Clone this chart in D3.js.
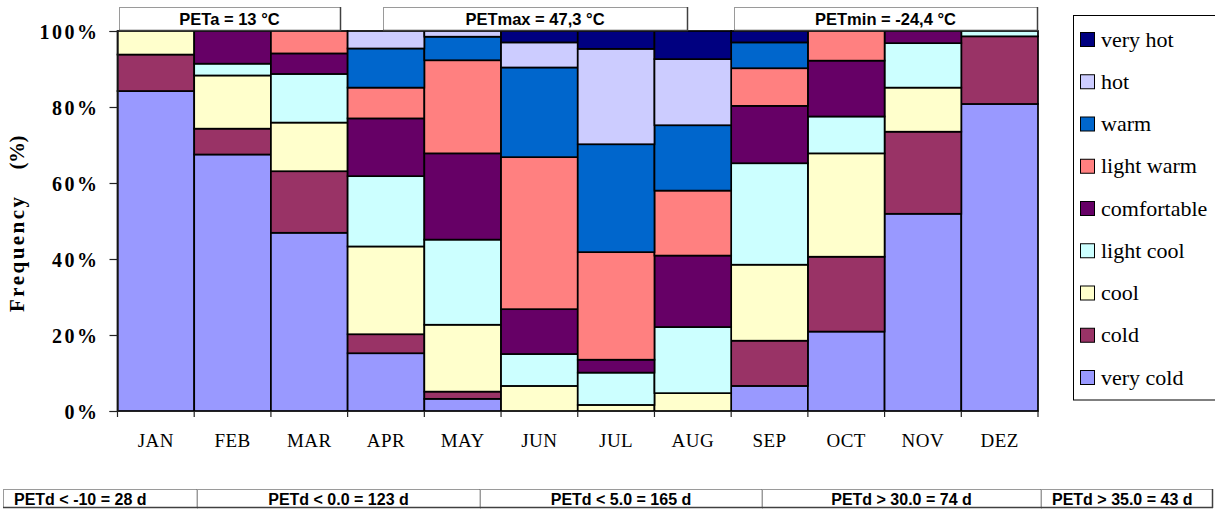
<!DOCTYPE html>
<html><head><meta charset="utf-8">
<script src="https://cdn.jsdelivr.net/npm/d3@7"></script>
<style>html,body{margin:0;padding:0;background:#fff;}svg{display:block;}
.serif{font-family:"Liberation Serif","Times New Roman","DejaVu Serif","Noto Serif",serif;}
.sans{font-family:"Liberation Sans",Arial,"DejaVu Sans",sans-serif;}
</style>
</head><body>
<svg id="chart" width="1215" height="510"></svg>
<script>
// ---------- DATA ----------
const months = ["JAN","FEB","MAR","APR","MAY","JUN","JUL","AUG","SEP","OCT","NOV","DEZ"];
const classes = ["very cold","cold","cool","light cool","comfortable","light warm","warm","hot","very hot"];
const veryCold    = [84.2, 67.5, 46.9, 15.2,  3.2,  0.0,  0.0,  0.0,  6.6, 20.9, 51.9, 80.8];
const cold        = [ 9.6,  6.8, 16.2,  5.0,  1.9,  0.0,  0.0,  0.0, 11.9, 19.7, 21.6, 17.8];
const cool        = [ 6.2, 14.0, 12.8, 23.1, 17.6,  6.6,  1.6,  4.7, 20.0, 27.2, 11.6,  0.0];
const lightCool   = [ 0.0,  3.1, 12.8, 18.5, 22.4,  8.4,  8.5, 17.4, 26.7,  9.7, 11.7,  1.4];
const comfortable = [ 0.0,  8.6,  5.4, 15.2, 22.7, 11.8,  3.4, 18.8, 15.1, 14.7,  3.2,  0.0];
const lightWarm   = [ 0.0,  0.0,  5.9,  8.1, 24.5, 40.0, 28.3, 17.1,  9.9,  7.8,  0.0,  0.0];
const warm        = [ 0.0,  0.0,  0.0, 10.3,  6.2, 23.6, 28.4, 17.2,  6.8,  0.0,  0.0,  0.0];
const hot         = [ 0.0,  0.0,  0.0,  4.6,  1.5,  6.6, 25.1, 17.4,  0.0,  0.0,  0.0,  0.0];
const veryHot     = [ 0.0,  0.0,  0.0,  0.0,  0.0,  3.0,  4.7,  7.4,  3.0,  0.0,  0.0,  0.0];
const yTicks = [0, 20, 40, 60, 80, 100];
const topLabels = ["PETa = 13 °C", "PETmax = 47,3 °C", "PETmin = -24,4 °C"];
const bottomLabels = ["PETd < -10 = 28 d", "PETd < 0.0 = 123 d", "PETd < 5.0 = 165 d", "PETd > 30.0 = 74 d", "PETd > 35.0 = 43 d"];

// ---------- STYLE / LAYOUT ----------
const colors = {
  "very cold":"#9999FF","cold":"#993366","cool":"#FFFFCC","light cool":"#CCFFFF",
  "comfortable":"#660066","light warm":"#FF8080","warm":"#0066CC","hot":"#CCCCFF","very hot":"#000080"
};
const seriesValues = [veryCold, cold, cool, lightCool, comfortable, lightWarm, warm, hot, veryHot];
const topBoxes = [[119,340],[383,687],[734,1037]];
const bottomBoxes = [[3,197,"start"],[197,480,"middle"],[480,762,"middle"],[762,1041,"middle"],[1041,1212,"start"]];

const svg = d3.select("#chart");
const x = d3.scaleBand().domain(months).range([117.5, 1038]).padding(0);
const y = d3.scaleLinear().domain([0, 100]).range([411, 31]);

const rows = months.map((m, i) => {
  const r = {month: m};
  classes.forEach((c, k) => r[c] = seriesValues[k][i]);
  return r;
});
const stacked = d3.stack().keys(classes)(rows);

const gBars = svg.append("g");
stacked.forEach(s => {
  gBars.selectAll(null).data(s.filter(d => d[1] - d[0] > 0.001)).enter().append("rect")
    .attr("x", d => x(d.data.month))
    .attr("width", x.bandwidth())
    .attr("y", d => y(d[1]))
    .attr("height", d => y(d[0]) - y(d[1]))
    .attr("fill", colors[s.key])
    .attr("stroke", "#000")
    .attr("stroke-width", 1.7);
});

// y axis
const yAxis = d3.axisLeft(y).tickValues(yTicks).tickFormat(d => d + "%").tickSize(8).tickPadding(0);
const gy = svg.append("g").attr("transform", "translate(117.5,0)").call(yAxis);
gy.attr("font-family", null);
gy.select(".domain").attr("stroke", "#222").attr("stroke-width", 1.2);
gy.selectAll(".tick line").attr("stroke", "#222").attr("stroke-width", 1.2);
gy.selectAll(".tick text")
  .attr("class", "serif")
  .attr("x", -18).attr("dy", "0.35em")
  .style("font-size", "20px").style("font-weight", "bold")
  .style("letter-spacing", "2.5px").attr("fill", "#000");

// x axis
const xAxis = d3.axisBottom(x).tickSize(0).tickPadding(0);
const gx = svg.append("g").attr("transform", "translate(0,411)").call(xAxis);
gx.attr("font-family", null);
gx.select(".domain").attr("stroke", "#222").attr("stroke-width", 1.2);
gx.selectAll(".tick text")
  .attr("class", "serif")
  .attr("y", 36).attr("dy", 0)
  .style("font-size", "19px").style("letter-spacing", "0.5px").attr("fill", "#000");
const bounds = months.map(m => x(m)).concat([x(months[months.length-1]) + x.bandwidth()]);
gx.selectAll(".bt").data(bounds).enter().append("line")
  .attr("x1", d => d).attr("x2", d => d).attr("y1", 0).attr("y2", 6)
  .attr("stroke", "#222").attr("stroke-width", 1.2);

// y title
svg.append("text").attr("class", "serif").attr("transform", "translate(24,254.5) rotate(-90)")
  .attr("text-anchor", "middle").attr("textLength", 115).attr("lengthAdjust", "spacing")
  .style("font-size", "21px").style("font-weight", "bold")
  .text("Frequency");
svg.append("text").attr("class", "serif").attr("transform", "translate(24,152.5) rotate(-90)")
  .attr("text-anchor", "middle").attr("textLength", 34).attr("lengthAdjust", "spacing")
  .style("font-size", "21px").style("font-weight", "bold")
  .text("(%)");

// legend
const leg = svg.append("g");
leg.append("rect").attr("x", 1073.5).attr("y", 15.5).attr("width", 160).attr("height", 384.5)
  .attr("fill", "#fff").attr("stroke", "#000").attr("stroke-width", 1);
const legOrder = classes.slice().reverse();
legOrder.forEach((c, i) => {
  const cy = 39.5 + i * 42.25;
  leg.append("rect").attr("x", 1080.5).attr("y", cy - 7).attr("width", 14).attr("height", 14)
    .attr("fill", colors[c]).attr("stroke", "#000").attr("stroke-width", 1);
  leg.append("text").attr("class", "serif").attr("x", 1101).attr("y", cy + 7)
    .style("font-size", "22px").text(c);
});

// annotation boxes
function bevelBox(x0, x1, y0, y1) {
  svg.append("rect").attr("x", x0 + 0.5).attr("y", y0 + 0.5).attr("width", x1 - x0).attr("height", y1 - y0)
    .attr("fill", "#fff").attr("stroke", "#9a9a9a").attr("stroke-width", 1);
  svg.append("line").attr("x1", x0).attr("x2", x1 + 1).attr("y1", y1 + 0.5).attr("y2", y1 + 0.5)
    .attr("stroke", "#404040").attr("stroke-width", 1.5);
  svg.append("line").attr("x1", x1 + 0.5).attr("x2", x1 + 0.5).attr("y1", y0).attr("y2", y1 + 1)
    .attr("stroke", "#404040").attr("stroke-width", 1.5);
}
topLabels.forEach((t, i) => {
  const [x0, x1] = topBoxes[i];
  bevelBox(x0, x1, 7, 30);
  svg.append("text").attr("class", "sans").attr("x", (x0 + x1) / 2).attr("y", 25).attr("text-anchor", "middle")
    .style("font-size", "16.5px").style("font-weight", "bold").text(t);
});
bottomLabels.forEach((t, i) => {
  const [x0, x1, anchor] = bottomBoxes[i];
  bevelBox(x0, x1, 489, 507);
  svg.append("text").attr("class", "sans").attr("x", anchor === "start" ? x0 + 11 : (x0 + x1) / 2).attr("y", 504.5)
    .attr("text-anchor", anchor)
    .style("font-size", "16px").style("font-weight", "bold").text(t);
});
</script>
</body></html>
